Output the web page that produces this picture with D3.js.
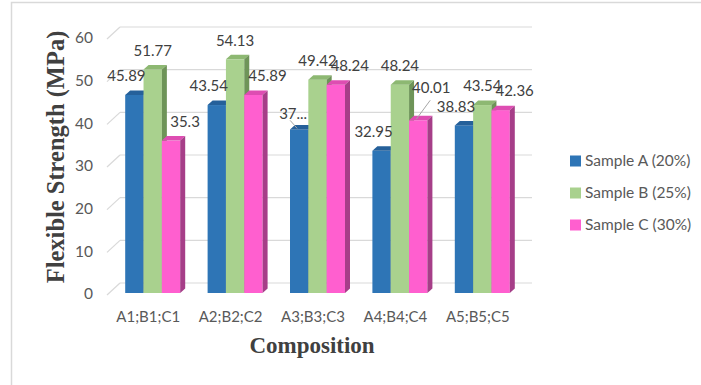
<!DOCTYPE html>
<html>
<head>
<meta charset="utf-8">
<script src="https://cdn.jsdelivr.net/npm/d3@7"></script>
<style>
  body { margin: 0; background: #fff; }
  svg { display: block; }
</style>
</head>
<body>
<svg id="chart" width="701" height="385"></svg>
<script>
const categories = ['A1;B1;C1', 'A2;B2;C2', 'A3;B3;C3', 'A4;B4;C4', 'A5;B5;C5'];
const seriesNames = ['Sample A (20%)', 'Sample B (25%)', 'Sample C (30%)'];
const sampleA = [45.89, 43.54, 37.9, 32.95, 38.83];
const sampleB = [51.77, 54.13, 49.42, 48.24, 43.54];
const sampleC = [35.3, 45.89, 48.24, 40.01, 42.36];
const yTicks = [0, 10, 20, 30, 40, 50, 60];
// Excel cut the A3 label short
const labelOverride = { '0-2': '37...' };

const seriesValues = [sampleA, sampleB, sampleC];
const colors = [
    { front: '#2E75B6', top: '#25609A', side: '#1F4E79' },
    { front: '#A9D18E', top: '#8DB872', side: '#6E9458' },
    { front: '#FF5FCF', top: '#DE4DB2', side: '#A63E88' }
];

const svg = d3.select('#chart');

// outer frame
svg.append('rect')
    .attr('x', 11.5).attr('y', 2.5)
    .attr('width', 720).attr('height', 420)
    .attr('fill', 'none')
    .attr('stroke', '#d9d9d9')
    .attr('stroke-width', 1.5);

// 3D projection: depth vector from front of floor to back wall
const depth = { dx: 13, dy: -12 };
const barShift = 4.5;          // bars sit a little behind the front edge
const barDepth = { dx: 5, dy: -4.5 };

const x = d3.scaleBand().domain(categories).range([107, 519]);
const groupWidth = 55;
const xSub = d3.scaleBand()
    .domain(d3.range(seriesNames.length))
    .range([(x.bandwidth() - groupWidth) / 2, (x.bandwidth() + groupWidth) / 2]);

const yWall = d3.scaleLinear().domain([0, 60]).range([295, 39]);
const yBar = d3.scaleLinear().domain([0, 60]).range([293, 34]);

// walls: side diagonals and back gridlines
const grid = svg.append('g').attr('stroke', '#d9d9d9').attr('stroke-width', 1.2).attr('fill', 'none');
yTicks.forEach(t => {
    const y0 = yWall(t);
    grid.append('line')
        .attr('x1', x.range()[0]).attr('y1', y0)
        .attr('x2', x.range()[0] + depth.dx).attr('y2', y0 + depth.dy);
    grid.append('line')
        .attr('x1', x.range()[0] + depth.dx).attr('y1', y0 + depth.dy)
        .attr('x2', x.range()[1] + depth.dx).attr('y2', y0 + depth.dy);
});

// y tick labels
svg.append('g').selectAll('text')
    .data(yTicks)
    .join('text')
    .attr('x', 93)
    .attr('y', d => yWall(d) - 1)
    .attr('dy', '0.35em')
    .attr('text-anchor', 'end')
    .attr('font-family', 'Lato, sans-serif')
    .attr('font-size', 15.5)
    .attr('fill', '#595959')
    .text(d => d);

// bars
const bars = [];
categories.forEach((c, ci) => {
    seriesValues.forEach((vals, si) => {
        bars.push({ c, ci, si, value: vals[ci] });
    });
});

const barG = svg.append('g');
bars.forEach(b => {
    const x0 = x(b.c) + xSub(b.si) + barShift;
    const w = xSub.bandwidth();
    const top = yBar(b.value);
    const bottom = yBar(0);
    const col = colors[b.si];
    const g = barG.append('g');
    g.append('rect')
        .attr('x', x0).attr('y', top)
        .attr('width', w).attr('height', bottom - top)
        .attr('fill', col.front);
    g.append('path')
        .attr('d', `M${x0},${top}L${x0 + barDepth.dx},${top + barDepth.dy}L${x0 + w + barDepth.dx},${top + barDepth.dy}L${x0 + w},${top}Z`)
        .attr('fill', col.top);
    g.append('path')
        .attr('d', `M${x0 + w},${top}L${x0 + w + barDepth.dx},${top + barDepth.dy}L${x0 + w + barDepth.dx},${bottom + barDepth.dy}L${x0 + w},${bottom}Z`)
        .attr('fill', col.side);
    b.cx = x0 + w / 2;
    b.top = top;
});

// data labels
const labelDx = [-8, 0, 14];
const labelDy = -19;
const moved = { '0-2': [-6, -16], '2-3': [13, -33] };

const labelG = svg.append('g');
bars.forEach(b => {
    const key = `${b.si}-${b.ci}`;
    const off = moved[key] || [labelDx[b.si], labelDy];
    const lx = b.cx + off[0];
    const ly = b.top + off[1];
    if (moved[key]) {
        labelG.append('line')
            .attr('x1', b.cx - 2).attr('y1', b.top - 1)
            .attr('x2', lx + (b.si === 0 ? -3 : -1)).attr('y2', ly + (b.si === 0 ? 7 : 13))
            .attr('stroke', '#a6a6a6').attr('stroke-width', 1);
    }
    labelG.append('text')
        .attr('x', lx).attr('y', ly)
        .attr('dy', '0.35em')
        .attr('text-anchor', 'middle')
        .attr('font-family', 'Lato, sans-serif')
        .attr('font-size', 15)
        .attr('fill', '#404040')
        .text(labelOverride[key] || String(b.value));
});

// category labels
svg.append('g').selectAll('text')
    .data(categories)
    .join('text')
    .attr('x', d => x(d) + x.bandwidth() / 2)
    .attr('y', 317)
    .attr('dy', '0.35em')
    .attr('text-anchor', 'middle')
    .attr('font-family', 'Lato, sans-serif')
    .attr('font-size', 15)
    .attr('fill', '#595959')
    .text(d => d);

// axis titles
svg.append('text')
    .attr('transform', 'translate(64,157) rotate(-90)')
    .attr('text-anchor', 'middle')
    .attr('font-family', '"Liberation Serif", "Times New Roman", serif')
    .attr('font-weight', 'bold')
    .attr('font-size', 24.5)
    .attr('fill', '#404040')
    .text('Flexible Strength (MPa)');

svg.append('text')
    .attr('x', 312).attr('y', 353)
    .attr('text-anchor', 'middle')
    .attr('font-family', '"Liberation Serif", "Times New Roman", serif')
    .attr('font-weight', 'bold')
    .attr('font-size', 23)
    .attr('fill', '#404040')
    .text('Composition');

// legend
const legend = svg.append('g').attr('transform', 'translate(570,161)');
const items = legend.selectAll('g')
    .data(seriesNames)
    .join('g')
    .attr('transform', (d, i) => `translate(0,${i * 32})`);
items.append('rect')
    .attr('x', 0).attr('y', -5.5)
    .attr('width', 11).attr('height', 11)
    .attr('fill', (d, i) => colors[i].front);
items.append('text')
    .attr('x', 15).attr('y', 0)
    .attr('dy', '0.35em')
    .attr('font-family', 'Lato, sans-serif')
    .attr('font-size', 15.5)
    .attr('fill', '#595959')
    .text(d => d);
</script>
</body>
</html>
